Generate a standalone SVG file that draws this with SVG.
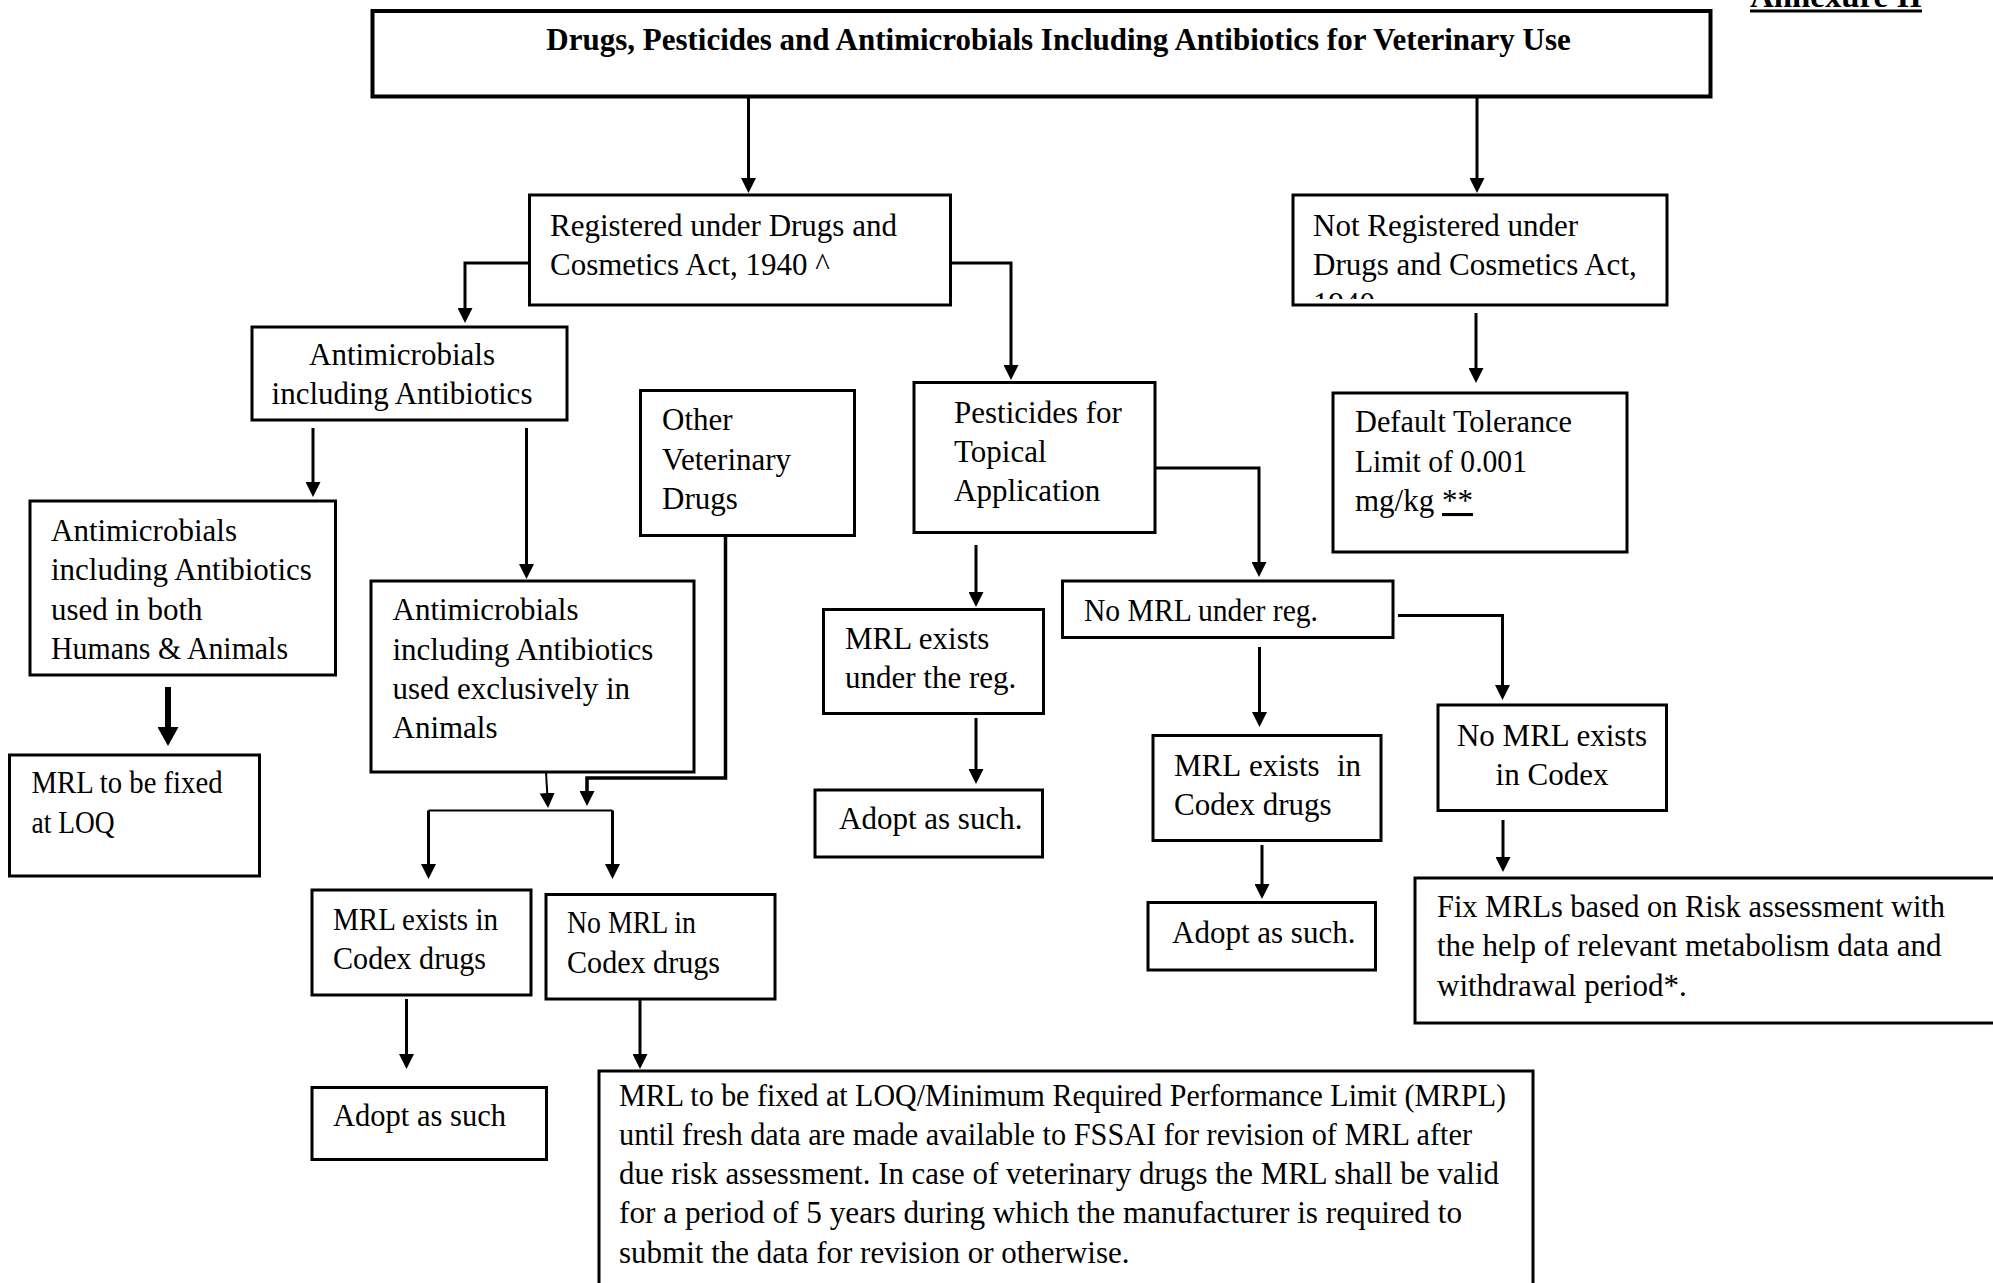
<svg xmlns="http://www.w3.org/2000/svg" width="1993" height="1283" viewBox="0 0 1993 1283">
<style>
.box{fill:#fff;stroke:#000;stroke-width:3}
.t{font-family:"Liberation Serif","Times New Roman",serif;font-size:31px;fill:#000}
.b{font-weight:bold}
.c{fill:none;stroke:#000;stroke-width:3}
</style>
<defs>
<marker id="ah" markerUnits="userSpaceOnUse" viewBox="0 0 15 15" markerWidth="15" markerHeight="15" refX="5" refY="7.5" orient="auto">
<path d="M0,0 L15,7.5 L0,15 z" fill="#000"/>
</marker>
<marker id="ahb" markerUnits="userSpaceOnUse" viewBox="0 0 19 21" markerWidth="19" markerHeight="21" refX="6" refY="10.5" orient="auto">
<path d="M0,0 L19,10.5 L0,21 z" fill="#000"/>
</marker>
<clipPath id="clipNR"><rect x="1295" y="197" width="370" height="102"/></clipPath>
</defs>
<rect width="1993" height="1283" fill="#fff"/>

<g id="connectors">
<path class="c" d="M748.5,96 V183" marker-end="url(#ah)"/>
<path class="c" d="M1477,96 V183" marker-end="url(#ah)"/>
<path class="c" d="M529.5,263 H465 V313" marker-end="url(#ah)"/>
<path class="c" d="M950.5,263 H1011 V370" marker-end="url(#ah)"/>
<path class="c" d="M1476,313 V373" marker-end="url(#ah)"/>
<path class="c" d="M313,428 V487" marker-end="url(#ah)"/>
<path class="c" d="M526.5,428 V569" marker-end="url(#ah)"/>
<path class="c" style="stroke-width:6" d="M168,687 V733" marker-end="url(#ahb)"/>
<path class="c" style="stroke-width:2" d="M546,772 L547.5,798" marker-end="url(#ah)"/>
<path class="c" style="stroke-width:3.5" d="M725.5,535.5 V778 H587 V796" marker-end="url(#ah)"/>
<path class="c" style="stroke-width:2" d="M428.5,810.5 H612.5"/>
<path class="c" d="M428.5,810.5 V869" marker-end="url(#ah)"/>
<path class="c" d="M612.5,810.5 V869" marker-end="url(#ah)"/>
<path class="c" d="M406.5,999 V1059" marker-end="url(#ah)"/>
<path class="c" d="M640,999 V1059" marker-end="url(#ah)"/>
<path class="c" d="M976,545 V597" marker-end="url(#ah)"/>
<path class="c" d="M1155,468 H1259 V567" marker-end="url(#ah)"/>
<path class="c" d="M976,718 V774" marker-end="url(#ah)"/>
<path class="c" d="M1259.5,647 V717" marker-end="url(#ah)"/>
<path class="c" d="M1398,615.5 H1502.5 V690" marker-end="url(#ah)"/>
<path class="c" d="M1262,845 V889" marker-end="url(#ah)"/>
<path class="c" d="M1503,820 V862" marker-end="url(#ah)"/>
</g>

<g id="annexure">
<text class="t b" x="1750" y="6.5" font-size="32" textLength="172" lengthAdjust="spacingAndGlyphs">Annexure II</text>
<line x1="1750" y1="11" x2="1922" y2="11" stroke="#000" stroke-width="3"/>
</g>

<g id="title">
<rect class="box" style="stroke-width:4" x="372.5" y="11" width="1338" height="85.5"/>
<text class="t b" x="1058.5" y="50" text-anchor="middle">Drugs, Pesticides and Antimicrobials Including Antibiotics for Veterinary Use</text>
</g>

<g id="registered">
<rect class="box" x="529.5" y="195" width="421" height="110"/>
<text class="t" x="550" y="236">Registered under Drugs and</text>
<text class="t" x="550" y="275">Cosmetics Act, 1940 ^</text>
</g>

<g id="not-registered">
<rect class="box" x="1293" y="195" width="374" height="110"/>
<text class="t" x="1313" y="236">Not Registered under</text>
<text class="t" x="1313" y="275">Drugs and Cosmetics Act,</text>
<text class="t" x="1313" y="314" clip-path="url(#clipNR)">1940</text>
</g>

<g id="antimicrobials">
<rect class="box" x="252" y="327" width="315" height="93"/>
<text class="t" x="402" y="365" text-anchor="middle">Antimicrobials</text>
<text class="t" x="402" y="404" text-anchor="middle">including Antibiotics</text>
</g>

<g id="default-tolerance">
<rect class="box" x="1333" y="393" width="294" height="159"/>
<text class="t" x="1355" y="432" textLength="217" lengthAdjust="spacingAndGlyphs">Default Tolerance</text>
<text class="t" x="1355" y="472" textLength="172" lengthAdjust="spacingAndGlyphs">Limit of 0.001</text>
<text class="t" x="1355" y="511">mg/kg <tspan text-decoration="underline">**</tspan></text>
</g>

<g id="other-veterinary">
<rect class="box" x="640.5" y="390.5" width="214" height="145"/>
<text class="t" x="662" y="430">Other</text>
<text class="t" x="662" y="470">Veterinary</text>
<text class="t" x="662" y="509">Drugs</text>
</g>

<g id="pesticides">
<rect class="box" x="914" y="382.5" width="241" height="150"/>
<text class="t" x="954" y="423">Pesticides for</text>
<text class="t" x="954" y="462">Topical</text>
<text class="t" x="954" y="501">Application</text>
</g>

<g id="both-humans-animals">
<rect class="box" x="30" y="501" width="305.5" height="174"/>
<text class="t" x="51" y="541">Antimicrobials</text>
<text class="t" x="51" y="580">including Antibiotics</text>
<text class="t" x="51" y="620">used in both</text>
<text class="t" x="51" y="659" textLength="237" lengthAdjust="spacingAndGlyphs">Humans &amp; Animals</text>
</g>

<g id="exclusively-animals">
<rect class="box" x="371" y="581" width="323" height="191"/>
<text class="t" x="392.5" y="620">Antimicrobials</text>
<text class="t" x="392.5" y="660">including Antibiotics</text>
<text class="t" x="392.5" y="699">used exclusively in</text>
<text class="t" x="392.5" y="738">Animals</text>
</g>

<g id="mrl-at-loq">
<rect class="box" x="9.5" y="755" width="250" height="121"/>
<text class="t" x="31.5" y="793" textLength="191" lengthAdjust="spacingAndGlyphs">MRL to be fixed</text>
<text class="t" x="31.5" y="833" textLength="83" lengthAdjust="spacingAndGlyphs">at LOQ</text>
</g>

<g id="mrl-codex-vet">
<rect class="box" x="312" y="890" width="219" height="105"/>
<text class="t" x="333" y="930" textLength="165" lengthAdjust="spacingAndGlyphs">MRL exists in</text>
<text class="t" x="333" y="969" textLength="153" lengthAdjust="spacingAndGlyphs">Codex drugs</text>
</g>

<g id="no-mrl-codex-vet">
<rect class="box" x="546" y="894.5" width="229" height="104.5"/>
<text class="t" x="567" y="933" textLength="129" lengthAdjust="spacingAndGlyphs">No MRL in</text>
<text class="t" x="567" y="973" textLength="153" lengthAdjust="spacingAndGlyphs">Codex drugs</text>
</g>

<g id="adopt-vet">
<rect class="box" x="312" y="1087.5" width="234.5" height="72"/>
<text class="t" x="333" y="1126" textLength="173" lengthAdjust="spacingAndGlyphs">Adopt as such</text>
</g>

<g id="mrl-loq-mrpl">
<rect class="box" x="599" y="1071" width="934" height="240"/>
<text class="t" x="619" y="1106" textLength="887" lengthAdjust="spacingAndGlyphs">MRL to be fixed at LOQ/Minimum Required Performance Limit (MRPL)</text>
<text class="t" x="619" y="1145" textLength="853" lengthAdjust="spacingAndGlyphs">until fresh data are made available to FSSAI for revision of MRL after</text>
<text class="t" x="619" y="1184" textLength="880" lengthAdjust="spacingAndGlyphs">due risk assessment. In case of veterinary drugs the MRL shall be valid</text>
<text class="t" x="619" y="1223" textLength="843" lengthAdjust="spacingAndGlyphs">for a period of 5 years during which the manufacturer is required to</text>
<text class="t" x="619" y="1263">submit the data for revision or otherwise.</text>
</g>

<g id="mrl-under-reg">
<rect class="box" x="823.5" y="609.5" width="220" height="104"/>
<text class="t" x="845" y="649">MRL exists</text>
<text class="t" x="845" y="688">under the reg.</text>
</g>

<g id="adopt-pest-1">
<rect class="box" x="815" y="790" width="227.5" height="67"/>
<text class="t" x="839" y="829">Adopt as such.</text>
</g>

<g id="no-mrl-under-reg">
<rect class="box" x="1062.5" y="581" width="330.5" height="56.5"/>
<text class="t" x="1084" y="621" textLength="234" lengthAdjust="spacingAndGlyphs">No MRL under reg.</text>
</g>

<g id="mrl-codex-pest">
<rect class="box" x="1153" y="735.5" width="228" height="105"/>
<text class="t" y="776"><tspan x="1174">MRL</tspan><tspan x="1249">exists</tspan><tspan x="1337">in</tspan></text>
<text class="t" x="1174" y="815">Codex drugs</text>
</g>

<g id="adopt-pest-2">
<rect class="box" x="1148" y="902.5" width="227.5" height="67.5"/>
<text class="t" x="1172" y="943">Adopt as such.</text>
</g>

<g id="no-mrl-codex">
<rect class="box" x="1438" y="705" width="228.5" height="105.5"/>
<text class="t" x="1552" y="746" text-anchor="middle">No MRL exists</text>
<text class="t" x="1552" y="785" text-anchor="middle">in Codex</text>
</g>

<g id="fix-mrls">
<rect class="box" x="1415" y="878" width="620" height="145"/>
<text class="t" x="1437" y="917" textLength="508" lengthAdjust="spacingAndGlyphs">Fix MRLs based on Risk assessment with</text>
<text class="t" x="1437" y="956">the help of relevant metabolism data and</text>
<text class="t" x="1437" y="996">withdrawal period*.</text>
</g>
</svg>
